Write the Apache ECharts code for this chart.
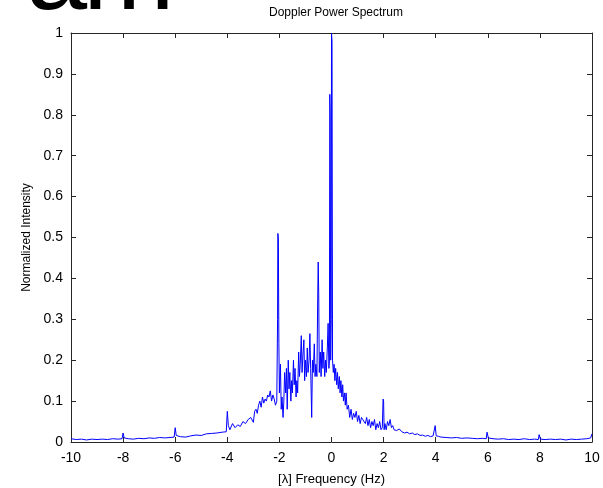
<!DOCTYPE html>
<html>
<head>
<meta charset="utf-8">
<title>Doppler Power Spectrum</title>
<script src="https://cdn.jsdelivr.net/npm/echarts@6/dist/echarts.min.js"></script>
<style>
  html, body { margin: 0; padding: 0; background: #fff; }
  #chart { width: 603px; height: 488px; }
</style>
</head>
<body>
<div id="chart"></div>
<script>
// spectrum, split in three stretches
const leftTailFreq = [-10, -9.8, -9.6, -9.4, -9.2, -9, -8.8, -8.6, -8.4, -8.2, -8.04, -8, -7.96,
    -7.8, -7.6, -7.4, -7.2, -7, -6.8, -6.6, -6.4, -6.2, -6.04, -6, -5.96, -5.8, -5.6, -5.4, -5.2, -5,
    -4.8, -4.6, -4.4, -4.2, -4.04, -4, -3.96, -3.9, -3.8, -3.7, -3.6, -3.5, -3.4, -3.3, -3.2, -3.1];
const leftTailVal = [0.008, 0.006, 0.007, 0.005, 0.007, 0.006, 0.007, 0.006, 0.008, 0.007, 0.008, 0.022, 0.01,
    0.008, 0.007, 0.009, 0.008, 0.01, 0.009, 0.011, 0.01, 0.011, 0.012, 0.035, 0.016, 0.013, 0.012, 0.015, 0.017, 0.016,
    0.02, 0.021, 0.022, 0.024, 0.025, 0.075, 0.04, 0.03, 0.045, 0.035, 0.042, 0.038, 0.05, 0.045, 0.055, 0.06];

const coreFreq = [
    -3.0, -2.95, -2.9, -2.85, -2.8, -2.75, -2.7, -2.65, -2.6, -2.55,
    -2.5, -2.45, -2.4, -2.35, -2.3, -2.25, -2.2, -2.15, -2.1, -2.07,
    -2.06, -2.04, -2.02, -2.0, -1.96, -1.93, -1.9, -1.86, -1.83, -1.8,
    -1.76, -1.73, -1.7, -1.66, -1.63, -1.6, -1.56, -1.53, -1.5, -1.46,
    -1.43, -1.4, -1.36, -1.33, -1.3, -1.26, -1.23, -1.2, -1.16, -1.13,
    -1.1, -1.06, -1.03, -1.0, -0.96, -0.93, -0.9, -0.86, -0.83, -0.8,
    -0.76, -0.73, -0.7, -0.66, -0.63, -0.6, -0.56, -0.53, -0.51, -0.49,
    -0.47, -0.43, -0.4, -0.36, -0.33, -0.3, -0.26, -0.23, -0.2, -0.16,
    -0.13, -0.1, -0.08, -0.065, -0.05, -0.03, -0.01, 0, 0.02, 0.04,
    0.07, 0.1, 0.13, 0.16, 0.2, 0.23, 0.26, 0.3, 0.33, 0.36,
    0.4, 0.43, 0.46, 0.5, 0.53, 0.56, 0.6, 0.65, 0.7, 0.75,
    0.8, 0.85, 0.9, 0.95, 1.0, 1.05, 1.1, 1.15, 1.2, 1.3,
    1.35, 1.4, 1.45, 1.5, 1.55, 1.6, 1.65, 1.7, 1.75, 1.8,
    1.85, 1.9, 1.95, 1.98, 2.0, 2.02, 2.05, 2.1, 2.15, 2.2,
    2.25, 2.3, 2.35, 2.4];
const coreVal = [
    0.048, 0.075, 0.08, 0.07, 0.09, 0.1, 0.085, 0.11, 0.095, 0.105,
    0.1, 0.115, 0.11, 0.125, 0.1, 0.115, 0.105, 0.09, 0.1, 0.3,
    0.51, 0.5, 0.24, 0.12, 0.19, 0.08, 0.11, 0.06, 0.1, 0.17,
    0.12, 0.18, 0.08, 0.2, 0.13, 0.17, 0.1, 0.15, 0.12, 0.2,
    0.14, 0.18, 0.11, 0.15, 0.12, 0.22, 0.16, 0.19, 0.26, 0.17,
    0.21, 0.25, 0.15, 0.2, 0.16, 0.23, 0.17, 0.2, 0.265, 0.18,
    0.06, 0.2, 0.17, 0.24, 0.16, 0.19, 0.16, 0.35, 0.44, 0.36,
    0.17, 0.22, 0.16, 0.25, 0.18, 0.22, 0.16, 0.2, 0.17, 0.23,
    0.29, 0.18, 0.2, 0.85, 0.8, 0.2, 0.3, 1.0, 0.98, 0.2,
    0.17, 0.19, 0.15, 0.18, 0.14, 0.17, 0.13, 0.16, 0.12, 0.15,
    0.11, 0.14, 0.1, 0.12, 0.09, 0.12, 0.08, 0.09, 0.06, 0.08,
    0.055, 0.07, 0.06, 0.075, 0.05, 0.065, 0.045, 0.06, 0.055, 0.045,
    0.06, 0.04, 0.055, 0.035, 0.05, 0.04, 0.055, 0.03, 0.045, 0.035,
    0.05, 0.03, 0.035, 0.105, 0.1, 0.03, 0.045, 0.03, 0.05, 0.04,
    0.055, 0.035, 0.04, 0.03];

const rightTailFreq = [2.5, 2.6, 2.7, 2.8, 2.9, 3.0, 3.1, 3.2, 3.3, 3.4, 3.5, 3.6, 3.7, 3.8, 3.9,
    3.96, 3.98, 4.02, 4.1, 4.2, 4.4, 4.6, 4.8, 5.0, 5.2, 5.4, 5.6, 5.8, 5.94, 5.97, 6.02,
    6.2, 6.4, 6.6, 6.8, 7.0, 7.2, 7.4, 7.6, 7.8, 7.94, 7.97, 8.02,
    8.2, 8.4, 8.6, 8.8, 9.0, 9.2, 9.4, 9.6, 9.8, 9.95, 10];
const rightTailVal = [0.028, 0.032, 0.025, 0.022, 0.024, 0.02, 0.022, 0.018, 0.02, 0.016, 0.017, 0.014, 0.016, 0.013, 0.015,
    0.012, 0.04, 0.015, 0.014, 0.012, 0.011, 0.01, 0.011, 0.009, 0.01, 0.009, 0.008, 0.009, 0.008, 0.024, 0.01,
    0.008, 0.007, 0.008, 0.006, 0.007, 0.006, 0.008, 0.006, 0.007, 0.006, 0.018, 0.007,
    0.006, 0.007, 0.006, 0.007, 0.005, 0.007, 0.006, 0.007, 0.008, 0.01, 0.02];

const freqs = leftTailFreq.concat(coreFreq, rightTailFreq);
const intensity = leftTailVal.concat(coreVal, rightTailVal);
const spectrum = freqs.map((f, i) => [f, intensity[i]]);

const FONT = 'Liberation Sans';
const axisLine = { show: true, onZero: false, lineStyle: { color: '#262626', width: 1 } };
const tick = { show: true, inside: true, length: 5, lineStyle: { color: '#262626' } };
const label = { color: '#000', fontFamily: FONT, fontSize: 14 };

const chart = echarts.init(document.getElementById('chart'));

const option = {
    animation: false,
    backgroundColor: '#fff',
    title: {
        text: 'Doppler Power Spectrum',
        left: 331,
        textAlign: 'center',
        top: 2,
        textStyle: { color: '#000', fontFamily: FONT, fontSize: 12, fontWeight: 'normal' }
    },
    graphic: [
        { type: 'text', left: 26, top: -76, style: { text: 'a', font: '110px "Liberation Sans"', fill: '#000' } },
        { type: 'text', left: 83, top: -76, style: { text: 'm', font: '110px "Liberation Sans"', fill: '#000' } }
    ],
    grid: { left: 71, right: 11, top: 33, bottom: 46, outerBoundsMode: 'none' },
    xAxis: [{
        type: 'value', min: -10, max: 10, interval: 2, position: 'bottom',
        name: '[λ] Frequency (Hz)', nameLocation: 'middle', nameGap: 31,
        nameTextStyle: { color: '#000', fontFamily: FONT, fontSize: 13 },
        axisLine, axisTick: tick, axisLabel: Object.assign({ margin: 9 }, label),
        splitLine: { show: false }
    }, {
        type: 'value', min: -10, max: 10, interval: 2, position: 'top',
        axisLine, axisTick: tick, axisLabel: { show: false }, splitLine: { show: false }
    }],
    yAxis: [{
        type: 'value', min: 0, max: 1, interval: 0.1, position: 'left',
        name: 'Normalized Intensity', nameLocation: 'middle', nameGap: 36,
        nameTextStyle: { color: '#000', fontFamily: FONT, fontSize: 12 },
        axisLine, axisTick: tick,
        axisLabel: Object.assign({ margin: 8, formatter: v => String(+v.toFixed(1)) }, label),
        splitLine: { show: false }
    }, {
        type: 'value', min: 0, max: 1, interval: 0.1, position: 'right',
        axisLine, axisTick: tick, axisLabel: { show: false }, splitLine: { show: false }
    }],
    series: [{
        type: 'line',
        data: spectrum,
        showSymbol: false,
        lineStyle: { color: '#0000ff', width: 1 },
        itemStyle: { color: '#0000ff' }
    }]
};

chart.setOption(option);
</script>
</body>
</html>
